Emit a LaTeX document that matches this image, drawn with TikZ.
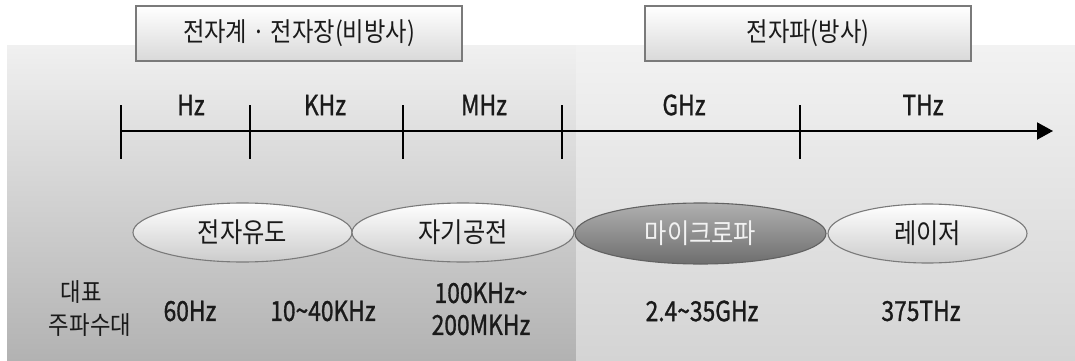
\documentclass[tikz,border=0pt]{standalone}
\usepackage{fontspec}
\usepackage{graphicx}
\setmainfont{Noto Sans CJK KR}
\newfontfamily\latf[FakeBold=1.2]{Noto Sans CJK KR}
\usetikzlibrary{shapes.geometric,arrows.meta}
\definecolor{lpTop}{HTML}{F0F0F0}
\definecolor{lpBot}{HTML}{B2B2B2}
\definecolor{rpTop}{HTML}{F2F2F2}
\definecolor{rpBot}{HTML}{D4D4D4}
\definecolor{edge}{HTML}{7A7A7A}
\definecolor{ink}{HTML}{1A1A1A}
\newcommand\tallk[1]{\scalebox{0.97}[1.1]{#1}}
\newcommand\talll[1]{\scalebox{0.95}[1.15]{#1}}
\begin{document}
\begin{tikzpicture}[x=1pt,y=-1pt,
  topbox/.style={draw=edge, line width=1.3pt, top color=white, bottom color=black!15,
    minimum width=326pt, minimum height=55pt, inner sep=0pt, text=ink, font=\fontsize{24}{26}\selectfont},
  ell/.style={ellipse, draw=edge, line width=1.1pt, top color=white, bottom color=black!20,
    minimum height=59pt, inner sep=0pt, text=ink, font=\fontsize{25}{26}\selectfont},
  dell/.style={ellipse, draw=edge!80!black, line width=1.1pt, top color=black!31, bottom color=black!57,
    minimum height=61pt, inner sep=0pt, text=white!95!black, font=\fontsize{25}{26}\selectfont},
  axisline/.style={line width=2pt, draw=black},
  tick/.style={line width=2pt, draw=black},
  unitlab/.style={text=ink, font=\latf\fontsize{24}{26}\selectfont, inner sep=0pt},
  freqlab/.style={text=ink, font=\latf\fontsize{24}{26}\selectfont, inner sep=0pt},
  sidelab/.style={text=ink, font=\fontsize{23}{26}\selectfont, inner sep=0pt}
]
\useasboundingbox (0,0) rectangle (1075,361);
\fill[white] (0,0) rectangle (1075,361);
% background panels
\fill[top color=lpTop, bottom color=lpBot] (7,46) rectangle (576,361);
\fill[top color=rpTop, bottom color=rpBot] (576,46) rectangle (1075,361);

% title boxes
\node[topbox] (lbox) at (299,33.5) {\tallk{전자계 · 전자장(비방사)}};
\node[topbox] (rbox) at (808,33.5) {\tallk{전자파(방사)}};

% axis
\coordinate (a0) at (120.7,131);
\coordinate (aend) at (1053,131);
\draw[axisline, -{Triangle[length=16pt,width=17pt]}] (a0) -- (aend);
\coordinate (t1u) at (120.7,105); \coordinate (t1d) at (120.7,159);
\coordinate (t2u) at (250,105);   \coordinate (t2d) at (250,159);
\coordinate (t3u) at (403,105);   \coordinate (t3d) at (403,159);
\coordinate (t4u) at (562,105);   \coordinate (t4d) at (562,159);
\coordinate (t5u) at (800,105);   \coordinate (t5d) at (800,159);
\draw[tick] (t1u) -- (t1d);
\draw[tick] (t2u) -- (t2d);
\draw[tick] (t3u) -- (t3d);
\draw[tick] (t4u) -- (t4d);
\draw[tick, line width=1.3pt] (t5u) -- (t5d);

\node[unitlab] (hz) at (191,105) {\talll{Hz}};
\node[unitlab] (khz) at (325,105) {\talll{KHz}};
\node[unitlab] (mhz) at (484,105) {\talll{MHz}};
\node[unitlab] (ghz) at (684,105) {\talll{GHz}};
\node[unitlab] (thz) at (923,105) {\talll{THz}};

% ellipses
\node[ell, minimum width=219pt] (e1) at (242.5,232.5) {\tallk{전자유도}};
\node[ell, minimum width=222pt] (e2) at (463,232.5) {\tallk{자기공전}};
\node[dell, minimum width=251pt] (e3) at (700.5,233.5) {\tallk{마이크로파}};
\node[ell, minimum width=199pt] (e4) at (927.5,233.5) {\tallk{레이저}};

% bottom labels
\node[sidelab] (s1) at (81,292) {\tallk{대표}};
\node[sidelab] (s2) at (90,325) {\tallk{주파수대}};
\node[freqlab] (f1) at (190,311) {\talll{60Hz}};
\node[freqlab] (f2) at (323,311) {\talll{10\textasciitilde40KHz}};
\node[freqlab] (f3a) at (481,293) {\talll{100KHz\textasciitilde}};
\node[freqlab] (f3b) at (481,325) {\talll{200MKHz}};
\node[freqlab] (f4) at (702,311) {\talll{2.4\textasciitilde35GHz}};
\node[freqlab] (f5) at (921,311) {\talll{375THz}};
\end{tikzpicture}
\end{document}
